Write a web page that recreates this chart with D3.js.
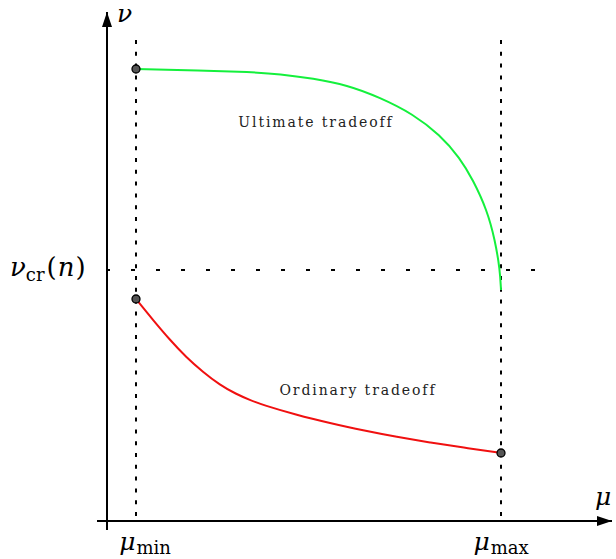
<!DOCTYPE html>
<html>
<head>
<meta charset="utf-8">
<script src="https://cdn.jsdelivr.net/npm/d3@7"></script>
<style>
  body { margin: 0; background: #fff; }
  text { font-family: "DejaVu Serif", serif; }
</style>
</head>
<body>
<div id="chart"></div>
<script>
// values in arbitrary units (mu along x, nu along y)
const muMin = 5.8, muMax = 78.8, nuCr = 50.2;

const ultimateMu = [5.8, 18.6, 28.6, 34.6, 41.2, 48, 54.6, 61.2, 66.6, 70.6, 73.2, 76, 77.6, 78.6, 78.8];
const ultimateNu = [90.4, 90.1, 89.8, 89.4, 88.5, 87.2, 84.7, 81.4, 77.2, 72.6, 68.2, 62.2, 56.2, 50.2, 46.2];

const ordinaryMu = [5.8, 9.2, 12.6, 15.8, 19.2, 22.6, 25.8, 28.6, 31.2, 38, 44.6, 51.2, 58, 64.6, 71.2, 78.8];
const ordinaryNu = [44.4, 40.2, 36.2, 32.8, 29.8, 27.2, 25.4, 24.2, 23.2, 21.2, 19.6, 18.1, 16.8, 15.7, 14.7, 13.6];

const markerMu = [muMin, muMin, muMax];
const markerNu = [90.4, 44.4, 13.6];

const width = 616, height = 559;

const svg = d3.select("#chart")
  .append("svg")
  .attr("width", width)
  .attr("height", height);

const x = d3.scaleLinear().domain([0, 100]).range([107, 607]);
const y = d3.scaleLinear().domain([0, 100]).range([521, 21]);

// dotted guide lines
svg.selectAll(".vguide")
  .data([muMin, muMax])
  .join("line")
  .attr("class", "vguide")
  .attr("x1", (d) => x(d))
  .attr("x2", (d) => x(d))
  .attr("y1", y(96.2))
  .attr("y2", y(0))
  .attr("stroke", "#000")
  .attr("stroke-width", 2)
  .attr("stroke-dasharray", "4,7.8");

svg.append("line")
  .attr("x1", x(-0.2))
  .attr("x2", x(87))
  .attr("y1", y(nuCr))
  .attr("y2", y(nuCr))
  .attr("stroke", "#000")
  .attr("stroke-width", 2)
  .attr("stroke-dasharray", "4,21");

// axes with arrows
svg.append("defs")
  .append("marker")
  .attr("id", "arrow")
  .attr("viewBox", "0 0 15 10")
  .attr("refX", 15)
  .attr("refY", 5)
  .attr("markerWidth", 15)
  .attr("markerHeight", 10)
  .attr("markerUnits", "userSpaceOnUse")
  .attr("orient", "auto")
  .append("path")
  .attr("d", "M0,0L15,5L0,10Z")
  .attr("fill", "#000");

svg.append("line")
  .attr("x1", x(-2)).attr("x2", x(101))
  .attr("y1", y(0)).attr("y2", y(0))
  .attr("stroke", "#000")
  .attr("stroke-width", 2)
  .attr("marker-end", "url(#arrow)");

svg.append("line")
  .attr("x1", x(0)).attr("x2", x(0))
  .attr("y1", y(-1.8)).attr("y2", y(101.8))
  .attr("stroke", "#000")
  .attr("stroke-width", 2)
  .attr("marker-end", "url(#arrow)");

// curves
const line = d3.line()
  .x((d) => x(d[0]))
  .y((d) => y(d[1]))
  .curve(d3.curveBasis);

svg.append("path")
  .datum(d3.zip(ultimateMu, ultimateNu))
  .attr("d", line)
  .attr("fill", "none")
  .attr("stroke", "#14f03c")
  .attr("stroke-width", 2);

svg.append("path")
  .datum(d3.zip(ordinaryMu, ordinaryNu))
  .attr("d", line)
  .attr("fill", "none")
  .attr("stroke", "#f01010")
  .attr("stroke-width", 2);

svg.selectAll(".marker")
  .data(d3.zip(markerMu, markerNu))
  .join("circle")
  .attr("class", "marker")
  .attr("cx", (d) => x(d[0]))
  .attr("cy", (d) => y(d[1]))
  .attr("r", 4)
  .attr("fill", "#555")
  .attr("stroke", "#000")
  .attr("stroke-width", 1.3);

// curve labels
svg.append("text")
  .attr("x", 316).attr("y", 127)
  .attr("text-anchor", "middle")
  .attr("font-size", 14)
  .attr("letter-spacing", 1.9)
  .attr("fill", "#222")
  .text("Ultimate tradeoff");

svg.append("text")
  .attr("x", 358).attr("y", 395)
  .attr("text-anchor", "middle")
  .attr("font-size", 14)
  .attr("letter-spacing", 1.9)
  .attr("fill", "#222")
  .text("Ordinary tradeoff");

// axis symbols
svg.append("text")
  .attr("x", 117).attr("y", 22)
  .attr("font-size", 25)
  .attr("font-style", "italic")
  .text("ν");

svg.append("text")
  .attr("x", 595).attr("y", 505)
  .attr("font-size", 25)
  .attr("font-style", "italic")
  .text("μ");

const nuLabel = svg.append("text")
  .attr("x", 10).attr("y", 276)
  .attr("font-size", 26);
nuLabel.append("tspan").attr("font-style", "italic").text("ν");
nuLabel.append("tspan").attr("font-size", 18).attr("dy", 5).text("cr");
nuLabel.append("tspan").attr("dy", -5).attr("dx", 2).text("(");
nuLabel.append("tspan").attr("font-style", "italic").attr("dx", 1).text("n");
nuLabel.append("tspan").attr("dx", 1).text(")");

const muLabels = [
  { v: muMin, sub: "min", dx: 9 },
  { v: muMax, sub: "max", dx: 0 },
];
muLabels.forEach((m) => {
  const t = svg.append("text")
    .attr("x", x(m.v) + m.dx)
    .attr("y", 550)
    .attr("text-anchor", "middle")
    .attr("font-size", 25);
  t.append("tspan").attr("font-style", "italic").text("μ");
  t.append("tspan").attr("font-size", 18).attr("dy", 4).attr("dx", 1).text(m.sub);
});
</script>
</body>
</html>
